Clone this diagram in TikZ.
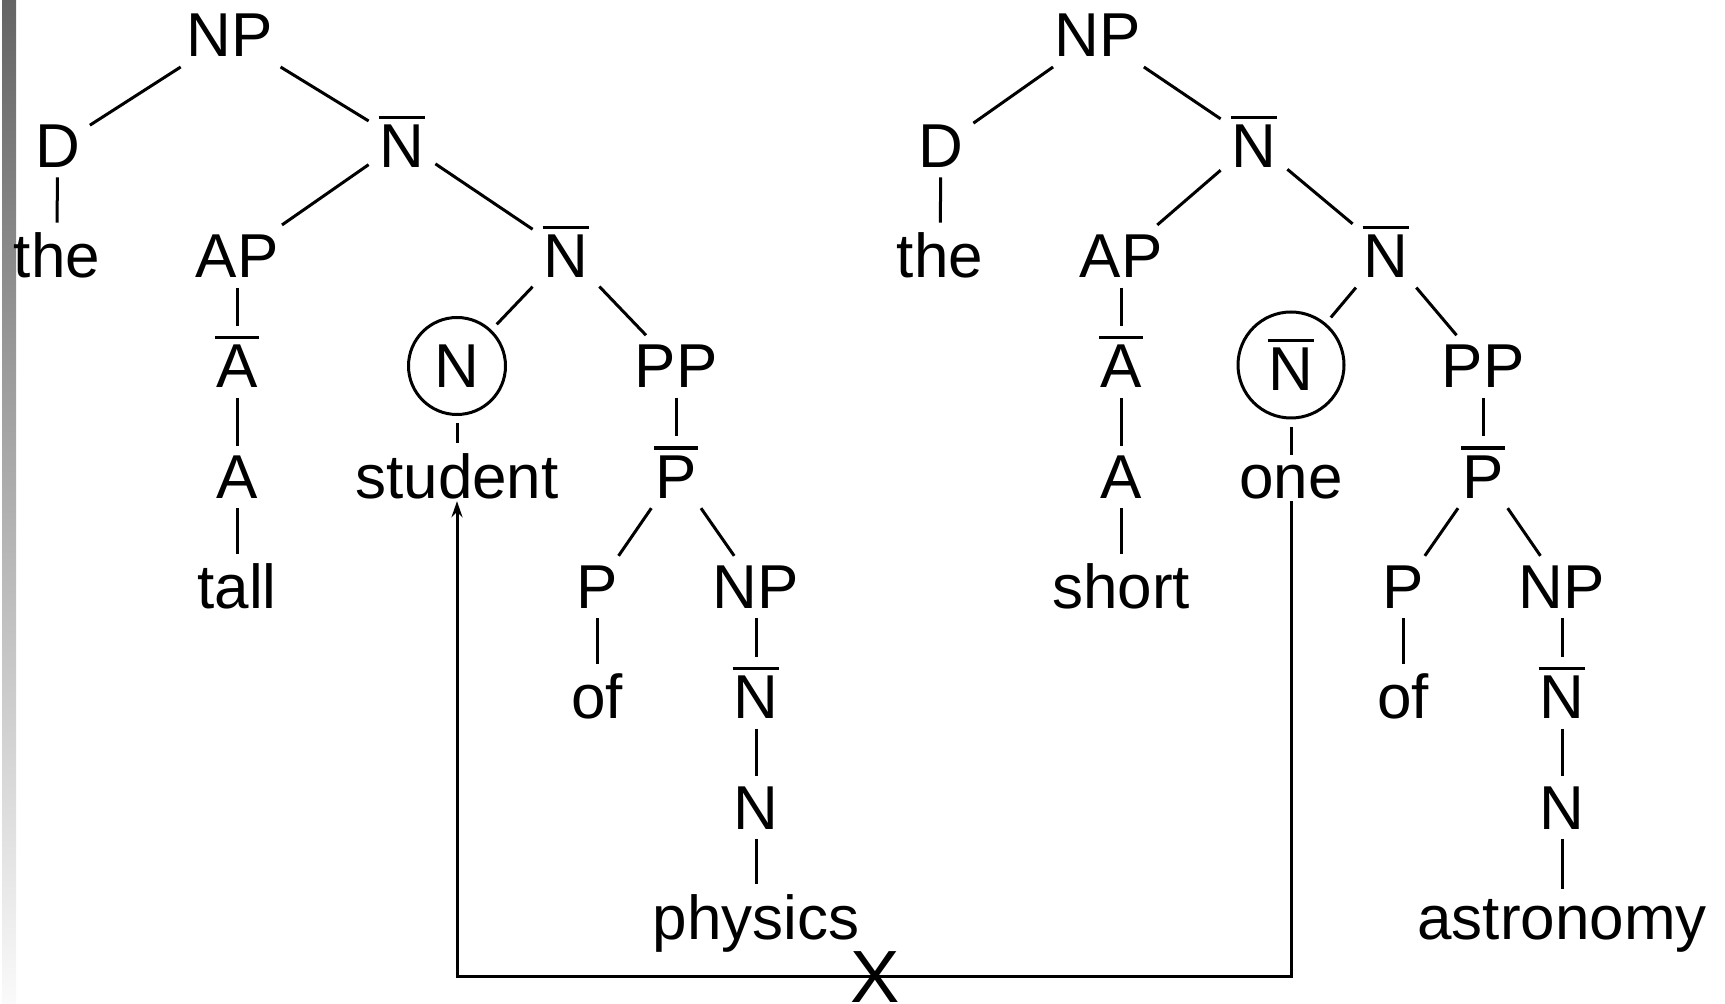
\documentclass[tikz,border=0pt]{standalone}
\usepackage{fontspec}
\setmainfont{Liberation Sans}
\usetikzlibrary{arrows.meta}

% bar over a category label
\newcommand{\ovl}[1]{\vbox{\hrule height 1.65pt\kern 2.9pt\hbox{\kern0.5pt#1\kern0.5pt}}}

\definecolor{bartop}{RGB}{100,100,100}
\definecolor{barbot}{RGB}{250,250,250}

\begin{document}
\begin{tikzpicture}[
    x=0.5pt, y=-0.5pt, line width=1.5pt,
    % Node styles
    cat/.style={
        anchor=base, inner sep=4.25pt, text depth=0pt,
        font=\fontsize{31}{36}\selectfont,
      },
    headcirc/.style={
        circle, draw, inner sep=2pt, outer sep=4.5pt,
        font=\fontsize{31}{36}\selectfont,
      },
    crossmark/.style={
        inner sep=0pt, font=\fontsize{37}{40}\selectfont,
      },
  ]
  \useasboundingbox (0,0) rectangle (1725,1004);
  \shade[top color=bartop, bottom color=barbot] (2,0) rectangle (16,1004);

  % --- the two trees, one row every 110.3 ---
  \foreach \nm/\x/\row/\txt in {
      lNP/229.5/0/NP, lD/57.5/1/D, lNbar/402/1/\ovl{N},
      lthe/57/2/the, lAP/237/2/AP, lNbarb/566/2/\ovl{N},
      lAbar/237/3/\ovl{A}, lPP/676/3/PP,
      lA/237/4/A, lword/457/4/student, lPbar/676/4/\ovl{P},
      ladj/237/5/tall, lP/597/5/P, lNPb/756/5/NP,
      lof/597/6/of, lNbarc/756/6/\ovl{N},
      lN/756/7/N, lnoun/756/8/physics,
      rNP/1097.5/0/NP, rD/941/1/D, rNbar/1254/1/\ovl{N},
      rthe/940/2/the, rAP/1121/2/AP, rNbarb/1386/2/\ovl{N},
      rAbar/1121/3/\ovl{A}, rPP/1483/3/PP,
      rA/1121/4/A, rword/1291/4/one, rPbar/1483/4/\ovl{P},
      radj/1121/5/short, rP/1403/5/P, rNPb/1562/5/NP,
      rof/1403/6/of, rNbarc/1562/6/\ovl{N},
      rN/1562/7/N, rnoun/1562/8/astronomy} {
      \node[cat] (\nm) at (\x,{57+110.3*\row}) {\txt};
    }

  % circled heads
  \node[headcirc, minimum size=48.5pt] (lhead) at (457,366) {N};
  \node[headcirc, minimum size=53pt] (rhead) at (1291,365) {\ovl{N}};

  \foreach \side in {l,r} {
      \foreach \a/\b in {NP/D, NP/Nbar, D/the, Nbar/AP, Nbar/Nbarb,
          AP/Abar, Abar/A, A/adj, Nbarb/head, Nbarb/PP, head/word,
          PP/Pbar, Pbar/P, Pbar/NPb, P/of, NPb/Nbarc, Nbarc/N, N/noun} {
          \draw (\side\a) -- (\side\b);
        }
    }

  % --- link between the two heads ---
  \node[crossmark] (cross) at (875,977) {X};
  \draw[{Stealth[length=8pt,width=5.5pt]}-] ([yshift=-1.5pt]lword.base)
    |- (cross.center) -| ([yshift=-1.5pt]rword.base);

\end{tikzpicture}
\end{document}
